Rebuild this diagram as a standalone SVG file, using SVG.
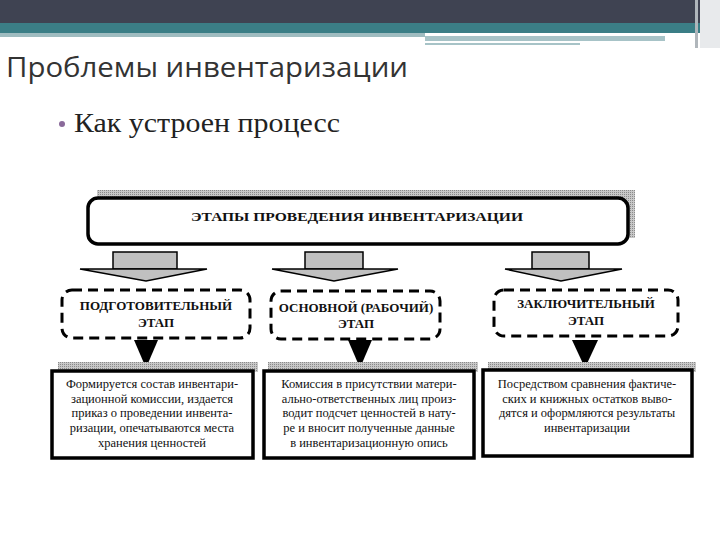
<svg xmlns="http://www.w3.org/2000/svg" width="720" height="540" viewBox="0 0 720 540">
<defs>
<pattern id="chk" width="2" height="2" patternUnits="userSpaceOnUse"><rect width="2" height="2" fill="#c8c8c8"/><rect width="1" height="1" fill="#8a8a8a"/></pattern>
<style>
.b{font-family:"Liberation Serif",serif;font-weight:bold;font-size:13px;fill:#111;text-anchor:middle}
.t{font-family:"Liberation Serif",serif;font-size:12.5px;fill:#111;text-anchor:middle}
.dash{fill:#fff;stroke:#000;stroke-width:3;stroke-dasharray:10 6}
.box{fill:#fff;stroke:#000;stroke-width:3.5}
.stem{fill:#c0c0c0;stroke:#000;stroke-width:1.5}
</style>
</defs>
<rect width="720" height="540" fill="#fff"/>
<g id="header">
<rect x="0" y="0" width="700" height="23" fill="#3f4352"/>
<rect x="0" y="23" width="700" height="10" fill="#3b7e86"/>
<rect x="0" y="33" width="425" height="4" fill="#9fbcc0"/>
<rect x="425" y="36" width="240" height="5" fill="#a7c3c7"/>
<rect x="425" y="43" width="155" height="2" fill="#a7c3c7"/>
<rect x="695" y="0" width="3" height="48" fill="#b0b6bb"/>
<rect x="700" y="0" width="20" height="48" fill="#e8eaec"/>
</g>
<text x="6" y="77" font-family="'Open Sans','DejaVu Sans',sans-serif" font-size="27" fill="#333" textLength="402" lengthAdjust="spacingAndGlyphs">Проблемы инвентаризации</text>
<circle cx="62" cy="124" r="3" fill="#8a6a9a"/>
<text x="74" y="132" font-family="'Liberation Serif',serif" font-size="27" fill="#222" textLength="266" lengthAdjust="spacingAndGlyphs">Как устроен процесс</text>
<g id="top">
<rect x="97" y="190" width="538" height="48" fill="url(#chk)"/>
<rect x="88" y="198" width="540" height="46" rx="10" fill="#fff" stroke="#000" stroke-width="3.5"/>
<text class="b" x="357" y="221" font-size="14" textLength="332" lengthAdjust="spacingAndGlyphs">ЭТАПЫ ПРОВЕДЕНИЯ ИНВЕНТАРИЗАЦИИ</text>
</g>
<g id="connectors">
<rect class="stem" x="113" y="252" width="64" height="17"/>
<path d="M80 269 H207 L146 281 Z" fill="#c0c0c0" stroke="#000" stroke-width="1.5"/>
<rect class="stem" x="305" y="252" width="58" height="17"/>
<path d="M272 269 H398 L334 281 Z" fill="#c0c0c0" stroke="#000" stroke-width="1.5"/>
<rect class="stem" x="532" y="252" width="57" height="17"/>
<path d="M505 269 H622 L561 281 Z" fill="#c0c0c0" stroke="#000" stroke-width="1.5"/>
<path d="M134 340 H158 L146 368 Z" fill="#000"/>
<path d="M348 340 H372 L360 368 Z" fill="#000"/>
<path d="M572 340 H598 L585 368 Z" fill="#000"/>
</g>
<g id="s1">
<rect class="dash" x="62" y="290" width="188" height="48" rx="10"/>
<text class="b" x="156" y="310">ПОДГОТОВИТЕЛЬНЫЙ</text>
<text class="b" x="156" y="327">ЭТАП</text>
</g>
<g id="s2">
<rect class="dash" x="271" y="291" width="169" height="48" rx="10"/>
<text class="b" x="356" y="312">ОСНОВНОЙ (РАБОЧИЙ)</text>
<text class="b" x="356" y="328">ЭТАП</text>
</g>
<g id="s3">
<rect class="dash" x="494" y="290" width="184" height="46" rx="10"/>
<text class="b" x="586" y="308">ЗАКЛЮЧИТЕЛЬНЫЙ</text>
<text class="b" x="586" y="325">ЭТАП</text>
</g>
<g id="d1">
<rect x="58" y="362" width="200" height="10" fill="url(#chk)"/>
<rect class="box" x="52" y="371" width="201" height="87"/>
<text class="t" x="152" y="388">Формируется состав инвентари-</text>
<text class="t" x="152" y="403">зационной комиссии, издается</text>
<text class="t" x="152" y="417">приказ о проведении инвента-</text>
<text class="t" x="152" y="432">ризации, опечатываются места</text>
<text class="t" x="152" y="447">хранения ценностей</text>
</g>
<g id="d2">
<rect x="268" y="362" width="210" height="10" fill="url(#chk)"/>
<rect class="box" x="264" y="371" width="210" height="87"/>
<text class="t" x="369" y="388">Комиссия в присутствии матери-</text>
<text class="t" x="369" y="403">ально-ответственных лиц произ-</text>
<text class="t" x="369" y="417">водит подсчет ценностей в нату-</text>
<text class="t" x="369" y="432">ре и вносит полученные данные</text>
<text class="t" x="369" y="447">в инвентаризационную опись</text>
</g>
<g id="d3">
<rect x="488" y="362" width="208" height="10" fill="url(#chk)"/>
<rect class="box" x="483" y="370" width="209" height="86"/>
<text class="t" x="587" y="388">Посредством сравнения фактиче-</text>
<text class="t" x="587" y="403">ских и книжных остатков выво-</text>
<text class="t" x="587" y="417">дятся и оформляются результаты</text>
<text class="t" x="587" y="432">инвентаризации</text>
</g>
</svg>
